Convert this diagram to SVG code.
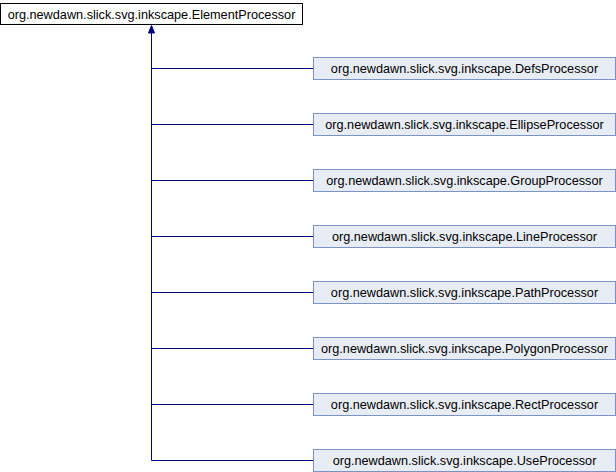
<svg xmlns="http://www.w3.org/2000/svg" width="616" height="472" viewBox="0 0 616 472">
<style>
.t{font-family:"Liberation Sans",Arial,sans-serif;font-size:12.7px;fill:#000;text-anchor:middle}
.b{fill:#e8ecf5;stroke:#7b93c9;stroke-width:1}
.r{fill:#fff;stroke:#000;stroke-width:1}
.e{fill:none;stroke:#000080;stroke-width:1}
.h{fill:#000080;stroke:#000080;stroke-width:1}
</style>
<g id="edges">
<path class="e" d="M151.5,30 V460.5 H313"/>
<polygon class="h" points="151.5,25.5 148.5,33 154.5,33"/>
<path class="e" d="M151,68.5 H313"/>
<path class="e" d="M151,124.5 H313"/>
<path class="e" d="M151,180.5 H313"/>
<path class="e" d="M151,236.5 H313"/>
<path class="e" d="M151,292.5 H313"/>
<path class="e" d="M151,348.5 H313"/>
<path class="e" d="M151,404.5 H313"/>
</g>
<g id="ElementProcessor"><rect class="r" x="0.5" y="3.5" width="302" height="21"/><text class="t" x="151.5" y="18.5">org.newdawn.slick.svg.inkscape.ElementProcessor</text></g>
<g id="DefsProcessor"><rect class="b" x="313.5" y="57.5" width="302" height="22"/><text class="t" x="464.5" y="73">org.newdawn.slick.svg.inkscape.DefsProcessor</text></g>
<g id="EllipseProcessor"><rect class="b" x="313.5" y="113.5" width="302" height="22"/><text class="t" x="464.5" y="129">org.newdawn.slick.svg.inkscape.EllipseProcessor</text></g>
<g id="GroupProcessor"><rect class="b" x="313.5" y="169.5" width="302" height="22"/><text class="t" x="464.5" y="185">org.newdawn.slick.svg.inkscape.GroupProcessor</text></g>
<g id="LineProcessor"><rect class="b" x="313.5" y="225.5" width="302" height="22"/><text class="t" x="464.5" y="241">org.newdawn.slick.svg.inkscape.LineProcessor</text></g>
<g id="PathProcessor"><rect class="b" x="313.5" y="281.5" width="302" height="22"/><text class="t" x="464.5" y="297">org.newdawn.slick.svg.inkscape.PathProcessor</text></g>
<g id="PolygonProcessor"><rect class="b" x="313.5" y="337.5" width="302" height="22"/><text class="t" x="464.5" y="353">org.newdawn.slick.svg.inkscape.PolygonProcessor</text></g>
<g id="RectProcessor"><rect class="b" x="313.5" y="393.5" width="302" height="22"/><text class="t" x="464.5" y="409">org.newdawn.slick.svg.inkscape.RectProcessor</text></g>
<g id="UseProcessor"><rect class="b" x="313.5" y="449.5" width="302" height="22"/><text class="t" x="464.5" y="465">org.newdawn.slick.svg.inkscape.UseProcessor</text></g>
</svg>
